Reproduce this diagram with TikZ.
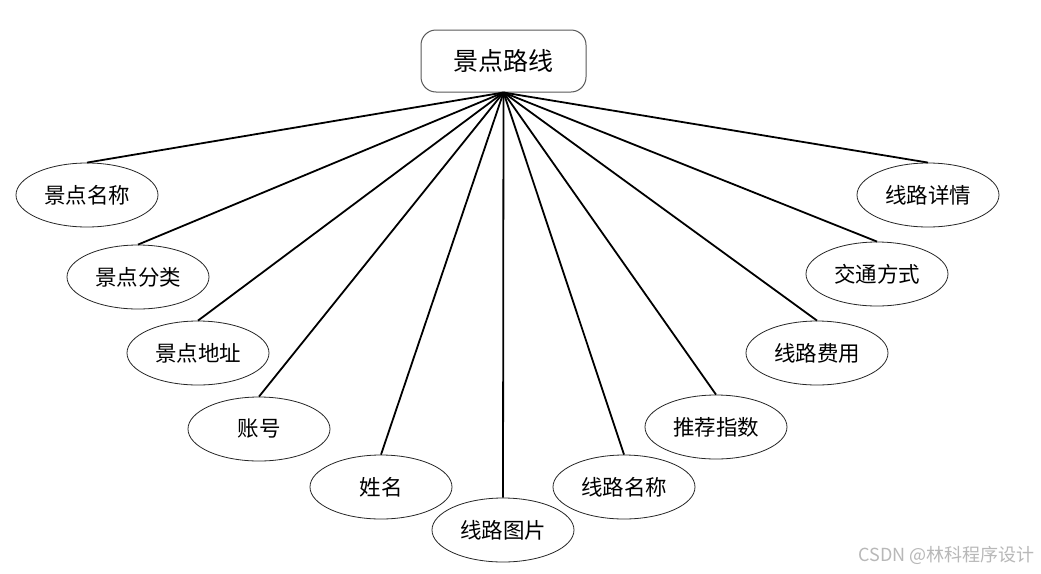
\documentclass[tikz,border=0pt]{standalone}
\usepackage{fontspec}
\setmainfont{Noto Sans CJK SC}
\newfontfamily\cjk{Noto Sans CJK SC}
\usetikzlibrary{shapes.geometric}
\begin{document}
\begin{tikzpicture}[x=1pt,y=-1pt,
  attr/.style={ellipse,draw=black!85,line width=0.8pt,minimum width=142pt,minimum height=64pt,inner sep=0pt,font=\cjk\fontsize{21.5}{24}\selectfont},
  entity/.style={rectangle,rounded corners=15pt,draw=black!65,line width=1pt,minimum width=165pt,minimum height=62pt,inner sep=0pt,font=\cjk\fontsize{25}{28}\selectfont},
  link/.style={line width=1.8pt,black}]
\useasboundingbox[fill=white] (0,0) rectangle (1041,573);
\node[entity] (e) at (503.5,61) {景点路线};
\node[attr] (a1) at (87,195) {景点名称};
\node[attr] (a2) at (138,277) {景点分类};
\node[attr] (a3) at (198,353) {景点地址};
\node[attr] (a4) at (259,429) {账号};
\node[attr] (a5) at (381,487) {姓名};
\node[attr] (a6) at (503,530) {线路图片};
\node[attr] (a7) at (624,487) {线路名称};
\node[attr] (a8) at (716,427) {推荐指数};
\node[attr] (a9) at (817,353) {线路费用};
\node[attr] (a10) at (877,274) {交通方式};
\node[attr] (a11) at (928,195) {线路详情};
\foreach \i in {1,...,11} {\draw[link] (e.south) -- (a\i.north);}
\node[anchor=east,text=black!28,font=\cjk\fontsize{18}{20}\selectfont,inner sep=0pt] (wm) at (1035,555) {CSDN @林科程序设计};
\end{tikzpicture}
\end{document}
